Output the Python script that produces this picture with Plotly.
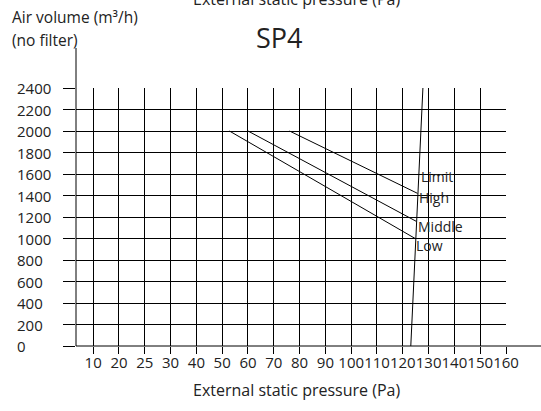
import numpy as np
import plotly.graph_objects as go

# ---- data ----
x_tick_labels = ["10", "20", "25", "30", "40", "50", "60", "70", "80", "90",
                 "100", "110", "120", "130", "140", "150", "160"]
x_tick_values = [10, 20, 25, 30, 40, 50, 60, 70, 80, 90, 100, 110, 120, 130, 140, 150, 160]
y_tick_values = [0, 200, 400, 600, 800, 1000, 1200, 1400, 1600, 1800, 2000, 2200, 2400]

low_pa = [52.8, 124.8]
low_flow = [2000, 1000]
middle_pa = [60.0, 125.2]
middle_flow = [2000, 1160]
high_pa = [76.1, 125.7]
high_flow = [2000, 1420]
limit_pa = [123.1, 127.8]
limit_flow = [0, 2400]

label_names = ["Limit", "High", "Middle", "Low"]
label_pa = [126.3, 125.6, 125.0, 124.5]
label_flow = [1578, 1380, 1112, 936]

FONT = "Open Sans"
INK = "#222222"

idx = np.arange(len(x_tick_values))


def to_pos(pa):
    return np.interp(pa, x_tick_values, idx)


fig = go.Figure()
for xs, ys in [(low_pa, low_flow), (middle_pa, middle_flow), (high_pa, high_flow), (limit_pa, limit_flow)]:
    fig.add_trace(go.Scatter(x=to_pos(xs), y=ys, mode="lines",
                             line=dict(color="black", width=1), showlegend=False, hoverinfo="skip"))

annotations = []
for name, p, f in zip(label_names, label_pa, label_flow):
    annotations.append(dict(x=float(to_pos(p)), y=f, xref="x", yref="y", text=name, showarrow=False,
                            xanchor="left", yanchor="middle", font=dict(family=FONT, size=14, color=INK)))
for v in y_tick_values:
    annotations.append(dict(x=-0.141, y=v, xref="paper", yref="y", text=str(v), showarrow=False,
                            xanchor="left", yanchor="middle", font=dict(family=FONT, size=15, color=INK)))

annotations += [
    dict(x=-0.153, y=1.275, xref="paper", yref="paper", text="Air volume (m³/h)", showarrow=False,
         xanchor="left", yanchor="middle", font=dict(family=FONT, size=15.5, color=INK)),
    dict(x=-0.153, y=1.185, xref="paper", yref="paper", text="(no filter)", showarrow=False,
         xanchor="left", yanchor="middle", font=dict(family=FONT, size=15.5, color=INK)),
    dict(x=0.473, y=1.195, xref="paper", yref="paper", text="SP4", showarrow=False,
         xanchor="center", yanchor="middle", font=dict(family=FONT, size=27, color=INK)),
    dict(x=0.513, y=1.345, xref="paper", yref="paper", text="External static pressure (Pa)", showarrow=False,
         xanchor="center", yanchor="middle", font=dict(family=FONT, size=16, color=INK)),
    dict(x=0.513, y=-0.172, xref="paper", yref="paper", text="External static pressure (Pa)", showarrow=False,
         xanchor="center", yanchor="middle", font=dict(family=FONT, size=16, color=INK)),
]

shapes = [
    dict(type="line", xref="paper", yref="paper", x0=0, x1=0, y0=0, y1=1.155,
         line=dict(color="black", width=1)),
    dict(type="line", xref="paper", yref="paper", x0=0, x1=1.09, y0=0, y1=0,
         line=dict(color="black", width=1)),
]

fig.update_layout(
    width=541, height=411,
    margin=dict(l=76, r=35, t=88, b=65),
    paper_bgcolor="white", plot_bgcolor="white",
    showlegend=False,
    annotations=annotations,
    shapes=shapes,
    xaxis=dict(range=[-0.666, 16], tickmode="array", tickvals=list(idx), ticktext=x_tick_labels,
               tickangle=0, ticklabelstandoff=-4,
               showgrid=True, gridcolor="black", gridwidth=1, zeroline=False, showline=False,
               ticks="outside", ticklen=7, tickcolor="black", tickwidth=1,
               tickfont=dict(family=FONT, size=15, color=INK), fixedrange=True),
    yaxis=dict(range=[0, 2400], tickmode="array", tickvals=y_tick_values,
               showgrid=True, gridcolor="black", gridwidth=1, zeroline=False, showline=False,
               ticks="outside", ticklen=12, tickcolor="black", tickwidth=1,
               showticklabels=False, fixedrange=True),
)

fig.write_html("out.html", config={"displayModeBar": False},
               post_script="document.body.style.margin='0';document.body.style.overflow='hidden';")
